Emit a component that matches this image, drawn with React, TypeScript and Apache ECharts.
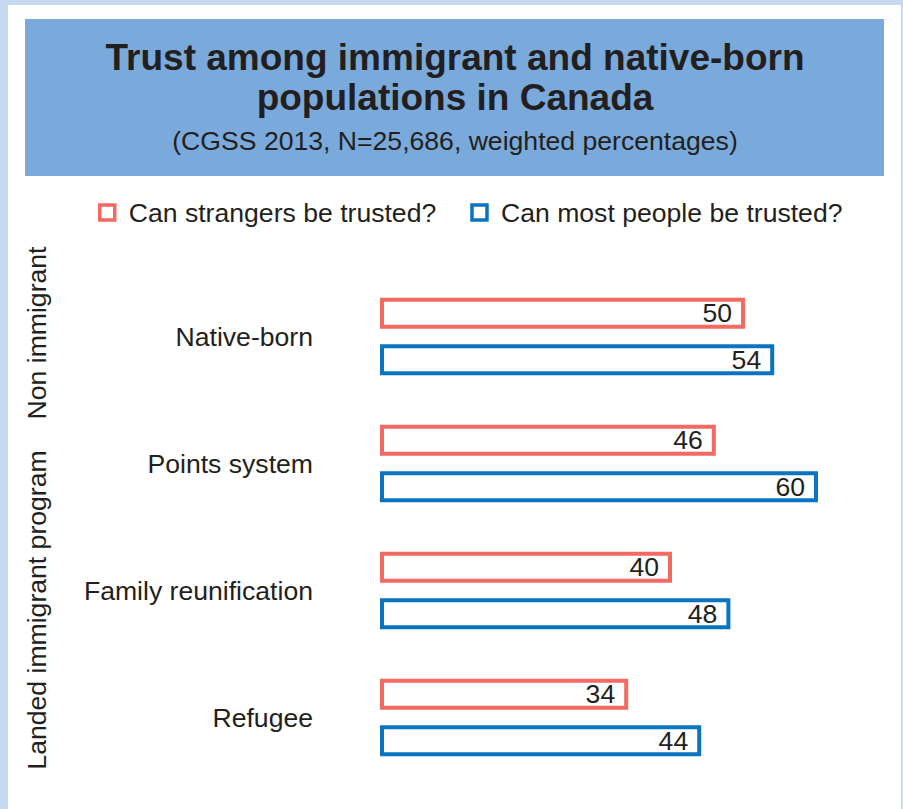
import React, { useEffect, useRef } from "react";
import * as echarts from "echarts";

const categories = ["Native-born", "Points system", "Family reunification", "Refugee"];
const strangers = [50, 46, 40, 34];
const mostPeople = [54, 60, 48, 44];
const seriesNames = ["Can strangers be trusted?", "Can most people be trusted?"];
const groupLabels = ["Non immigrant", "Landed immigrant program"];
const titleLines = ["Trust among immigrant and native-born", "populations in Canada"];
const subtitle = "(CGSS 2013, N=25,686, weighted percentages)";

const RED = "#f26a62";
const BLUE = "#0a74c0";
const INK = "#231f20";
const FONT = "Liberation Sans, Arial, sans-serif";
const FS = 26.6;

export default function App() {
  const ref = useRef<HTMLDivElement>(null);
  useEffect(() => {
    if (!ref.current) return;
    const chart = echarts.init(ref.current, null, { renderer: "svg" });
    const labelCfg = {
      show: true,
      position: "insideRight",
      distance: 13,
      fontSize: FS,
      color: INK,
      fontFamily: FONT,
    };
    const txt = (text: string, x: number, y: number, size: number, bold = false, rot = 0) => ({
      type: "text",
      x,
      y,
      rotation: rot,
      silent: true,
      style: {
        text,
        fontSize: size,
        fontWeight: bold ? "bold" : "normal",
        fill: INK,
        fontFamily: FONT,
        align: "center",
        verticalAlign: "middle",
      },
    });
    chart.setOption({
      animation: false,
      backgroundColor: "#c6d9f1",
      textStyle: { fontFamily: FONT },
      graphic: [
        { type: "rect", shape: { x: 8, y: 5, width: 893, height: 810 }, style: { fill: "#ffffff" }, silent: true, z: -10 },
        { type: "rect", shape: { x: 25, y: 19, width: 859, height: 157 }, style: { fill: "#7aaadb" }, silent: true, z: -9 },
        txt(titleLines[0], 455, 57, 37, true),
        txt(titleLines[1], 455, 97, 37, true),
        txt(subtitle, 455, 141, FS),
        txt(groupLabels[0], 37, 333, FS, false, Math.PI / 2),
        txt(groupLabels[1], 37, 610, FS, false, Math.PI / 2),
      ],
      legend: {
        top: 194,
        left: 93,
        itemWidth: 15,
        itemHeight: 15,
        itemGap: 34,
        icon: "rect",
        itemStyle: { borderWidth: 3.5 },
        textStyle: { fontSize: FS, color: INK, fontFamily: FONT, padding: [0, 0, 0, 9] },
        data: seriesNames,
      },
      grid: { left: 380, top: 273, width: 438, height: 508, containLabel: false },
      xAxis: { type: "value", min: 0, max: 60, show: false },
      yAxis: {
        type: "category",
        data: categories,
        inverse: true,
        axisLine: { show: false },
        axisTick: { show: false },
        axisLabel: { fontSize: FS, color: INK, margin: 67, fontFamily: FONT },
      },
      series: [
        {
          name: seriesNames[0],
          type: "bar",
          data: strangers,
          barWidth: 31,
          barGap: "50%",
          itemStyle: { color: "#ffffff", borderColor: RED, borderWidth: 4 },
          label: labelCfg,
        },
        {
          name: seriesNames[1],
          type: "bar",
          data: mostPeople,
          barWidth: 31,
          barGap: "50%",
          itemStyle: { color: "#ffffff", borderColor: BLUE, borderWidth: 4 },
          label: labelCfg,
        },
      ],
    });
    return () => chart.dispose();
  }, []);
  return <div ref={ref} style={{ position: "fixed", left: 0, top: 0, width: 903, height: 809 }} />;
}
